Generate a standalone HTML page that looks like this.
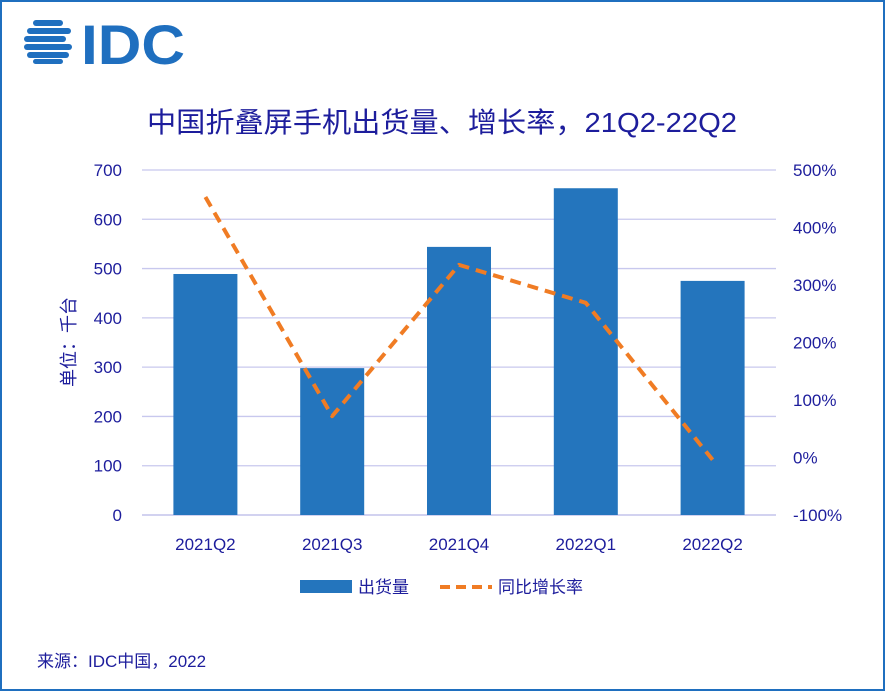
<!DOCTYPE html>
<html><head><meta charset="utf-8"><style>
body{margin:0;width:885px;height:691px;background:#fff;overflow:hidden}
svg text{font-family:"Liberation Sans","Noto Sans CJK SC",sans-serif}
</style></head><body>
<svg width="885" height="691">
<rect x="1" y="1" width="883" height="689" fill="#fff" stroke="#1f6fbf" stroke-width="2"/>
<g fill="#1f6fbf">
<rect x="33" y="20" width="30" height="6" rx="3"/><rect x="27" y="28" width="44" height="6" rx="3"/>
<rect x="24" y="36" width="42" height="6" rx="3"/><rect x="24" y="44" width="48" height="6" rx="3"/>
<rect x="27" y="52" width="42" height="6" rx="3"/><rect x="33" y="59" width="30" height="5" rx="2.5"/>
<text x="81" y="64" font-size="56" font-weight="bold" textLength="104" lengthAdjust="spacingAndGlyphs">IDC</text>
</g>
<text x="442" y="132" font-size="28" fill="#1d1d9c" text-anchor="middle" textLength="590" lengthAdjust="spacingAndGlyphs">中国折叠屏手机出货量、增长率，21Q2-22Q2</text>
<g id="grid"></g><g id="bars"></g><g id="line"></g><g id="axes"></g>
<text transform="translate(75,342) rotate(-90)" font-size="18" fill="#1d1d9c" text-anchor="middle">单位：千台</text>
<g>
<rect x="300" y="580" width="52" height="13" fill="#2475bd"/>
<text x="358" y="593" font-size="17" fill="#1d1d9c">出货量</text>
<line x1="440" y1="587" x2="492" y2="587" stroke="#f07c24" stroke-width="4" stroke-dasharray="10,6"/>
<text x="498" y="593" font-size="17" fill="#1d1d9c">同比增长率</text>
</g>
<text x="37" y="667" font-size="17" fill="#1d1d9c">来源：IDC中国，2022</text>
</svg>
<script>
const categories=["2021Q2","2021Q3","2021Q4","2022Q1","2022Q2"];
const shipments=[489,298,544,663,475];
const growth=[453,72,335,269,-4];
const leftTicks=[0,100,200,300,400,500,600,700];
const rightTicks=[-100,0,100,200,300,400,500];
const NS="http://www.w3.org/2000/svg";
const X0=142,X1=776,Y0=515,Y1=170;
const band=(X1-X0)/categories.length;
const xc=i=>X0+band*(i+0.5);
const yL=v=>Y0-(v/700)*(Y0-Y1);
const yR=v=>Y0-((v+100)/600)*(Y0-Y1);
function mk(tag,attrs,parent,txt){const e=document.createElementNS(NS,tag);for(const k in attrs)e.setAttribute(k,attrs[k]);if(txt!=null)e.textContent=txt;document.getElementById(parent).appendChild(e);return e;}
leftTicks.forEach(v=>{
 const g=mk('line',{x1:X0,x2:X1,y1:yL(v),y2:yL(v),stroke:v===0?'#b8b8e8':'#c8c8ee','stroke-width':1.3},'grid');
 
 
 const t=mk('text',{x:122,y:yL(v)+6,'font-size':17,fill:'#1d1d9c','text-anchor':'end'},'axes',v);
 
 
});
rightTicks.forEach(v=>{
 const t=mk('text',{x:793,y:yR(v)+6,'font-size':17,fill:'#1d1d9c'},'axes',v+'%');
 
 
});
categories.forEach((c,i)=>{
 const b=mk('rect',{x:xc(i)-32,y:yL(shipments[i]),width:64,height:Y0-yL(shipments[i]),fill:'#2475bd'},'bars');
 
 
 const t=mk('text',{x:xc(i),y:550,'font-size':17,fill:'#1d1d9c','text-anchor':'middle'},'axes',c);
 
 
});
const p=mk('polyline',{points:growth.map((v,i)=>xc(i)+','+yR(v)).join(' '),fill:'none',stroke:'#f07c24','stroke-width':4,'stroke-dasharray':'11,7','stroke-linejoin':'round'},'line');


</script>
</body></html>
